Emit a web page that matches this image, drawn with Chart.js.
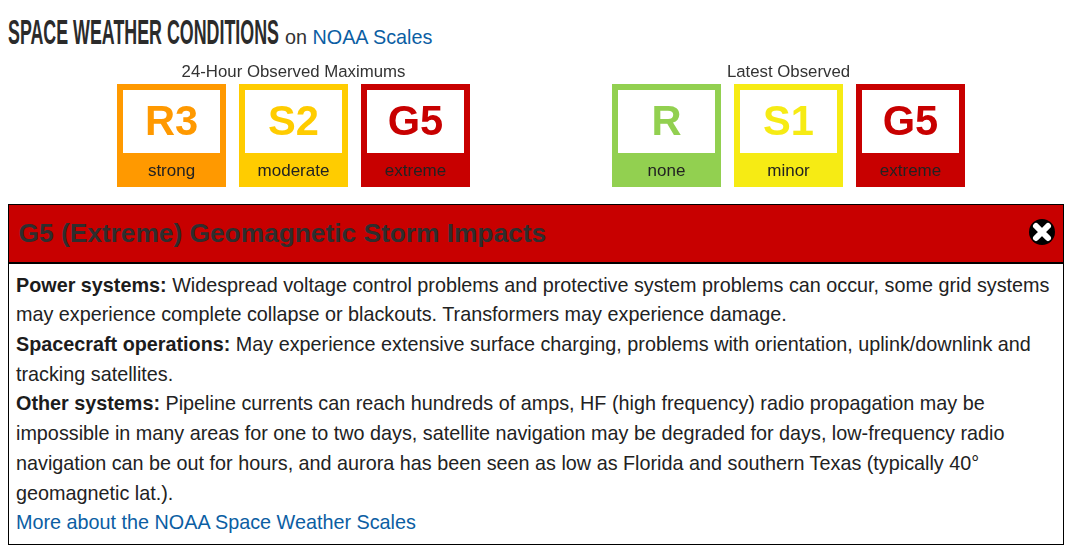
<!DOCTYPE html>
<html>
<head>
<meta charset="utf-8">
<title>Space Weather Conditions</title>
<script src="https://cdn.jsdelivr.net/npm/chart.js@4"></script>
<style>
    html, body { margin: 0; padding: 0; background: #fff; overflow: hidden; }
    body { width: 1069px; height: 549px; position: relative; font-family: "Liberation Sans", Arial, sans-serif; color: #333; }
    a { color: #0b5ea3; text-decoration: none; }
    #heading { position: absolute; left: 8px; top: 10px; white-space: nowrap; font: bold 35px/44px "Liberation Sans Narrow", "Liberation Sans", sans-serif; color: #2b2b2b; transform-origin: 0 0; }
    #subheading { position: absolute; left: 285px; top: 25px; font-size: 19.8px; line-height: 24px; white-space: nowrap; }
    .tiles { position: absolute; top: 60px; width: 387px; height: 127px; }
    #panel { position: absolute; left: 8px; top: 204px; width: 1054px; height: 339px; border: 1px solid #000; }
    #panel-head { height: 57px; background: #c80000; border-bottom: 2px solid #000; position: relative; }
    #panel-head h3 { margin: 0; position: absolute; left: 9.5px; top: 13px; font-size: 26.3px; line-height: 30px; color: #2e2e2e; white-space: nowrap; }
    #panel-head svg { position: absolute; left: 1019px; top: 13px; }
    #panel-body { padding: 6.6px 7px; font-size: 19.8px; line-height: 29.7px; color: #222; white-space: nowrap; }
    #panel-body b { color: #1c1c1c; }
</style>
</head>
<body>
<div id="heading">SPACE WEATHER CONDITIONS</div>
<div id="subheading">on <a href="#">NOAA Scales</a></div>

<div class="tiles" style="left:100px"><canvas id="maxChart"></canvas></div>
<div class="tiles" style="left:595px"><canvas id="latestChart"></canvas></div>

<div id="panel">
    <div id="panel-head">
        <h3>G5 (Extreme) Geomagnetic Storm Impacts</h3>
        <svg width="28" height="28" viewBox="0 0 28 28">
            <circle cx="14" cy="14" r="13" fill="#000"/>
            <path d="M8 8 L20 20 M20 8 L8 20" stroke="#fff" stroke-width="6" stroke-linecap="round"/>
        </svg>
    </div>
    <div id="panel-body">
        <b>Power systems:</b> Widespread voltage control problems and protective system problems can occur, some grid systems<br>
        may experience complete collapse or blackouts. Transformers may experience damage.<br>
        <b>Spacecraft operations:</b> May experience extensive surface charging, problems with orientation, uplink/downlink and<br>
        tracking satellites.<br>
        <b>Other systems:</b> Pipeline currents can reach hundreds of amps, HF (high frequency) radio propagation may be<br>
        impossible in many areas for one to two days, satellite navigation may be degraded for days, low-frequency radio<br>
        navigation can be out for hours, and aurora has been seen as low as Florida and southern Texas (typically 40&deg;<br>
        geomagnetic lat.).<br>
        <a href="#">More about the NOAA Space Weather Scales</a>
    </div>
</div>

<script>
// Tile data
const maxScales = ['R3', 'S2', 'G5'];
const maxWords = ['strong', 'moderate', 'extreme'];
const maxColors = ['#ff9900', '#ffcc00', '#c80000'];
const latestScales = ['R', 'S1', 'G5'];
const latestWords = ['none', 'minor', 'extreme'];
const latestColors = ['#92d050', '#f6eb14', '#c80000'];
// share of each tile taken by the word band and the white window
const bandShare = [0.33, 0.33, 0.33];
const windowShare = [0.67, 0.67, 0.67];

// Draws the scale letter in the window and the word in the band
const tileText = {
    id: 'tileText',
    afterDatasetsDraw(chart, args, opts) {
        const ctx = chart.ctx;
        const band = chart.getDatasetMeta(0).data;
        const win = chart.getDatasetMeta(1).data;
        ctx.save();
        ctx.textAlign = 'center';
        ctx.textBaseline = 'middle';
        chart.data.labels.forEach((label, i) => {
            ctx.font = 'bold 41.6px "Liberation Sans", Arial, sans-serif';
            ctx.fillStyle = opts.colors[i];
            ctx.fillText(label, win[i].x, (win[i].y + win[i].base) / 2 + 5);
            ctx.font = '17px "Liberation Sans", Arial, sans-serif';
            ctx.fillStyle = '#222';
            ctx.fillText(opts.words[i], band[i].x, (band[i].y + band[i].base) / 2 + 1);
        });
        ctx.restore();
    }
};

function drawTiles(id, heading, scales, words, colors) {
    new Chart(document.getElementById(id).getContext('2d'), {
        type: 'bar',
        data: {
            labels: scales,
            datasets: [
                { data: bandShare, backgroundColor: colors, borderWidth: 0 },
                { data: windowShare, backgroundColor: '#fff', borderColor: colors, borderWidth: { top: 6, left: 6, right: 6, bottom: 0 }, borderSkipped: false }
            ]
        },
        options: {
            responsive: false,
            animation: false,
            devicePixelRatio: 1,
            layout: { padding: { left: 10.5, right: 10.5 } },
            datasets: { bar: { barPercentage: 109 / 122, categoryPercentage: 1 } },
            scales: {
                x: { stacked: true, display: false },
                y: { stacked: true, display: false, min: 0, max: 1 }
            },
            plugins: {
                legend: { display: false },
                tooltip: { enabled: false },
                title: {
                    display: true,
                    text: heading,
                    color: '#333',
                    font: { family: '"Liberation Sans", Arial, sans-serif', size: 16.8, weight: 'normal', lineHeight: 1.2 },
                    padding: { top: 1.84, bottom: 2 }
                },
                tileText: { colors, words }
            }
        },
        plugins: [tileText]
    });
}

document.querySelectorAll('canvas').forEach(c => { c.width = 387; c.height = 127; });
drawTiles('maxChart', '24-Hour Observed Maximums', maxScales, maxWords, maxColors);
drawTiles('latestChart', 'Latest Observed', latestScales, latestWords, latestColors);

// Squeeze the heading to the width of the condensed face
const heading = document.getElementById('heading');
heading.style.transform = 'scaleX(' + (271 / heading.getBoundingClientRect().width) + ')';
</script>
</body>
</html>
